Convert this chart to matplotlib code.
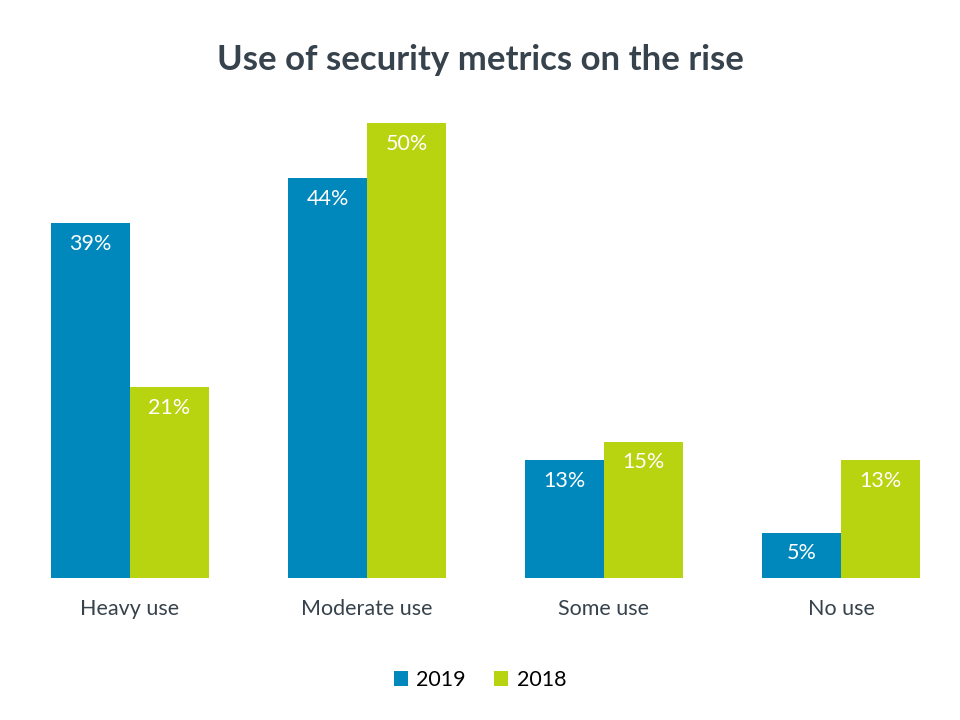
import matplotlib
matplotlib.use("Agg")
import matplotlib.pyplot as plt
import numpy as np

categories = ["Heavy use", "Moderate use", "Some use", "No use"]
years = ["2019", "2018"]
values_2019 = [39, 44, 13, 5]
values_2018 = [21, 50, 15, 13]

blue = "#0088BC"
green = "#B8D30F"
text_dark = "#36424C"

plt.rcParams["font.family"] = ["Lato", "DejaVu Sans"]

fig = plt.figure(figsize=(9.6, 7.2), dpi=100)
ax = fig.add_axes([11.5 / 960, 142 / 720, 948 / 960, 455 / 720])

x = np.arange(len(categories))
w = 1 / 3
bars19 = ax.bar(x - w / 2, values_2019, w, color=blue, label=years[0], clip_on=False)
bars18 = ax.bar(x + w / 2, values_2018, w, color=green, label=years[1], clip_on=False)

for bars in (bars19, bars18):
    for b in bars:
        h = b.get_height()
        ax.text(b.get_x() + b.get_width() / 2, h - 2.3, f"{h:.0f}%",
                ha="center", va="center", color="white", fontsize=15.5)

ax.set_xlim(-0.5, len(categories) - 0.5)
ax.set_ylim(0, 50)
ax.set_xticks(x)
ax.set_xticklabels(categories, fontsize=15.5, color=text_dark)
ax.tick_params(axis="x", length=0, pad=15)
ax.set_yticks([])
for s in ax.spines.values():
    s.set_visible(False)

fig.text(0.5, 1 - 60 / 720, "Use of security metrics on the rise", ha="center", va="center",
         fontsize=25, fontweight="bold", color=text_dark)

fig.legend(handles=[bars19, bars18], labels=years, loc="center", bbox_to_anchor=(0.5, 1 - 680 / 720),
           ncol=2, frameon=False, fontsize=15.5, handlelength=0.65, handleheight=0.65,
           handletextpad=0.4, columnspacing=1.3)

fig.savefig("out.png", dpi=100)
